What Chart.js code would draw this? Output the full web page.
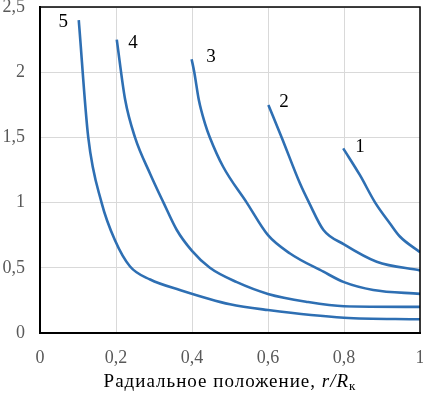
<!DOCTYPE html>
<html lang="ru">
<head>
    <meta charset="UTF-8">
    <title>Радиальное положение</title>
    <script src="https://cdn.jsdelivr.net/npm/chart.js"></script>
    <style>
        body {
            margin: 0;
            padding: 0;
            background: #fff;
        }
        .wrap {
            width: 423px;
            height: 397px;
            position: relative;
        }
    </style>
</head>
<body>
    <div class="wrap">
        <canvas id="chart"></canvas>
    </div>

    <script>
        // Curve data (x = r/Rk)
        const curve1X = [0.798, 0.842, 0.882, 0.921, 0.947, 1.0];
        const curve1Y = [1.416, 1.21, 1.0, 0.84, 0.74, 0.62];

        const curve2X = [0.601, 0.636, 0.684, 0.708, 0.746, 0.80, 0.886, 1.0];
        const curve2Y = [1.748, 1.50, 1.148, 1.0, 0.79, 0.68, 0.547, 0.48];

        const curve3X = [0.399, 0.406, 0.418, 0.434, 0.447, 0.482, 0.544, 0.60, 0.658, 0.746, 0.80, 0.877, 1.0];
        const curve3Y = [2.10, 2.0, 1.787, 1.608, 1.50, 1.275, 1.0, 0.75, 0.61, 0.47, 0.39, 0.33, 0.30];

        const curve4X = [0.202, 0.224, 0.25, 0.29, 0.325, 0.36, 0.40, 0.447, 0.518, 0.60, 0.70, 0.80, 1.0];
        const curve4Y = [2.25, 1.79, 1.50, 1.22, 1.0, 0.79, 0.63, 0.50, 0.39, 0.30, 0.24, 0.205, 0.20];

        const curve5X = [0.102, 0.127, 0.162, 0.197, 0.237, 0.29, 0.368, 0.50, 0.60, 0.80, 1.0];
        const curve5Y = [2.40, 1.50, 1.0, 0.713, 0.51, 0.41, 0.33, 0.22, 0.176, 0.117, 0.105];

        // Curve numbers and where they sit (data coordinates)
        const curveNames = ['1', '2', '3', '4', '5'];
        const nameX = [0.842, 0.642, 0.45, 0.245, 0.061];
        const nameY = [1.426, 1.771, 2.117, 2.224, 2.385];

        const xTicks = [0, 0.2, 0.4, 0.6, 0.8, 1];
        const yTicks = [0, 0.5, 1, 1.5, 2, 2.5];

        const lineColor = '#2e6fb3';
        const serif = "'Liberation Serif', 'Times New Roman', 'DejaVu Serif', serif";

        function toPoints(xs, ys) {
            return xs.map((x, i) => ({ x: x, y: ys[i] }));
        }

        function fmt(v) {
            if (v === 0 || v === 1 || v === 2) return String(v);
            return v.toFixed(1).replace('.', ',');
        }

        const allX = [curve1X, curve2X, curve3X, curve4X, curve5X];
        const allY = [curve1Y, curve2Y, curve3Y, curve4Y, curve5Y];

        const datasets = allX.map((xs, i) => ({
            label: curveNames[i],
            data: toPoints(xs, allY[i]),
            showLine: true,
            borderColor: lineColor,
            backgroundColor: lineColor,
            borderWidth: 2.6,
            pointRadius: 0,
            cubicInterpolationMode: 'monotone',
            fill: false
        }));

        // Frame, curve numbers and the axis title
        const extras = {
            id: 'extras',
            afterDatasetsDraw(chart) {
                const { ctx, chartArea, scales } = chart;
                ctx.save();

                ctx.strokeStyle = '#000';
                ctx.lineWidth = 1.5;
                ctx.strokeRect(chartArea.left, chartArea.top, chartArea.right - chartArea.left, chartArea.bottom - chartArea.top);

                ctx.fillStyle = '#000';
                ctx.font = '19px ' + serif;
                ctx.textAlign = 'center';
                ctx.textBaseline = 'middle';
                curveNames.forEach((n, i) => {
                    ctx.fillText(n, scales.x.getPixelForValue(nameX[i]), scales.y.getPixelForValue(nameY[i]));
                });

                // x axis title with italic r/R and subscript к
                ctx.letterSpacing = '1px';
                const parts = [
                    { t: 'Радиальное положение, ', f: '19px ' + serif, dy: 0 },
                    { t: 'r/R', f: 'italic 19px ' + serif, dy: 0 },
                    { t: 'к', f: '13px ' + serif, dy: 3 }
                ];
                let total = 0;
                parts.forEach(p => { ctx.font = p.f; p.w = ctx.measureText(p.t).width; total += p.w; });
                let x = (chartArea.left + chartArea.right) / 2 - total / 2;
                const base = 387;
                ctx.textAlign = 'left';
                ctx.textBaseline = 'alphabetic';
                parts.forEach(p => {
                    ctx.font = p.f;
                    ctx.fillText(p.t, x, base + p.dy);
                    x += p.w;
                });

                ctx.restore();
            }
        };

        new Chart(document.getElementById('chart'), {
            type: 'scatter',
            data: { datasets: datasets },
            options: {
                responsive: true,
                maintainAspectRatio: false,
                animation: false,
                layout: { padding: { top: 7, right: 3, left: 0, bottom: 0 } },
                plugins: {
                    legend: { display: false },
                    tooltip: { enabled: false }
                },
                scales: {
                    x: {
                        type: 'linear',
                        min: 0,
                        max: 1,
                        afterBuildTicks: s => { s.ticks = xTicks.map(v => ({ value: v })); },
                        ticks: {
                            callback: v => fmt(v),
                            color: '#595959',
                            font: { family: serif, size: 18 },
                            padding: 14,
                            maxRotation: 0,
                            autoSkip: false
                        },
                        grid: { color: '#d9d9d9', lineWidth: 1, drawTicks: false },
                        border: { color: '#000', width: 2 },
                        afterFit: s => { s.height = 64; s.paddingLeft = 0; s.paddingRight = 0; }
                    },
                    y: {
                        min: 0,
                        max: 2.5,
                        afterBuildTicks: s => { s.ticks = yTicks.map(v => ({ value: v })); },
                        ticks: {
                            callback: v => fmt(v),
                            color: '#595959',
                            font: { family: serif, size: 18 },
                            padding: 15
                        },
                        grid: { color: '#d9d9d9', lineWidth: 1, drawTicks: false },
                        border: { color: '#000', width: 2 },
                        afterFit: s => { s.width = 40; s.paddingTop = 0; s.paddingBottom = 0; }
                    }
                }
            },
            plugins: [extras]
        });
    </script>
</body>
</html>
